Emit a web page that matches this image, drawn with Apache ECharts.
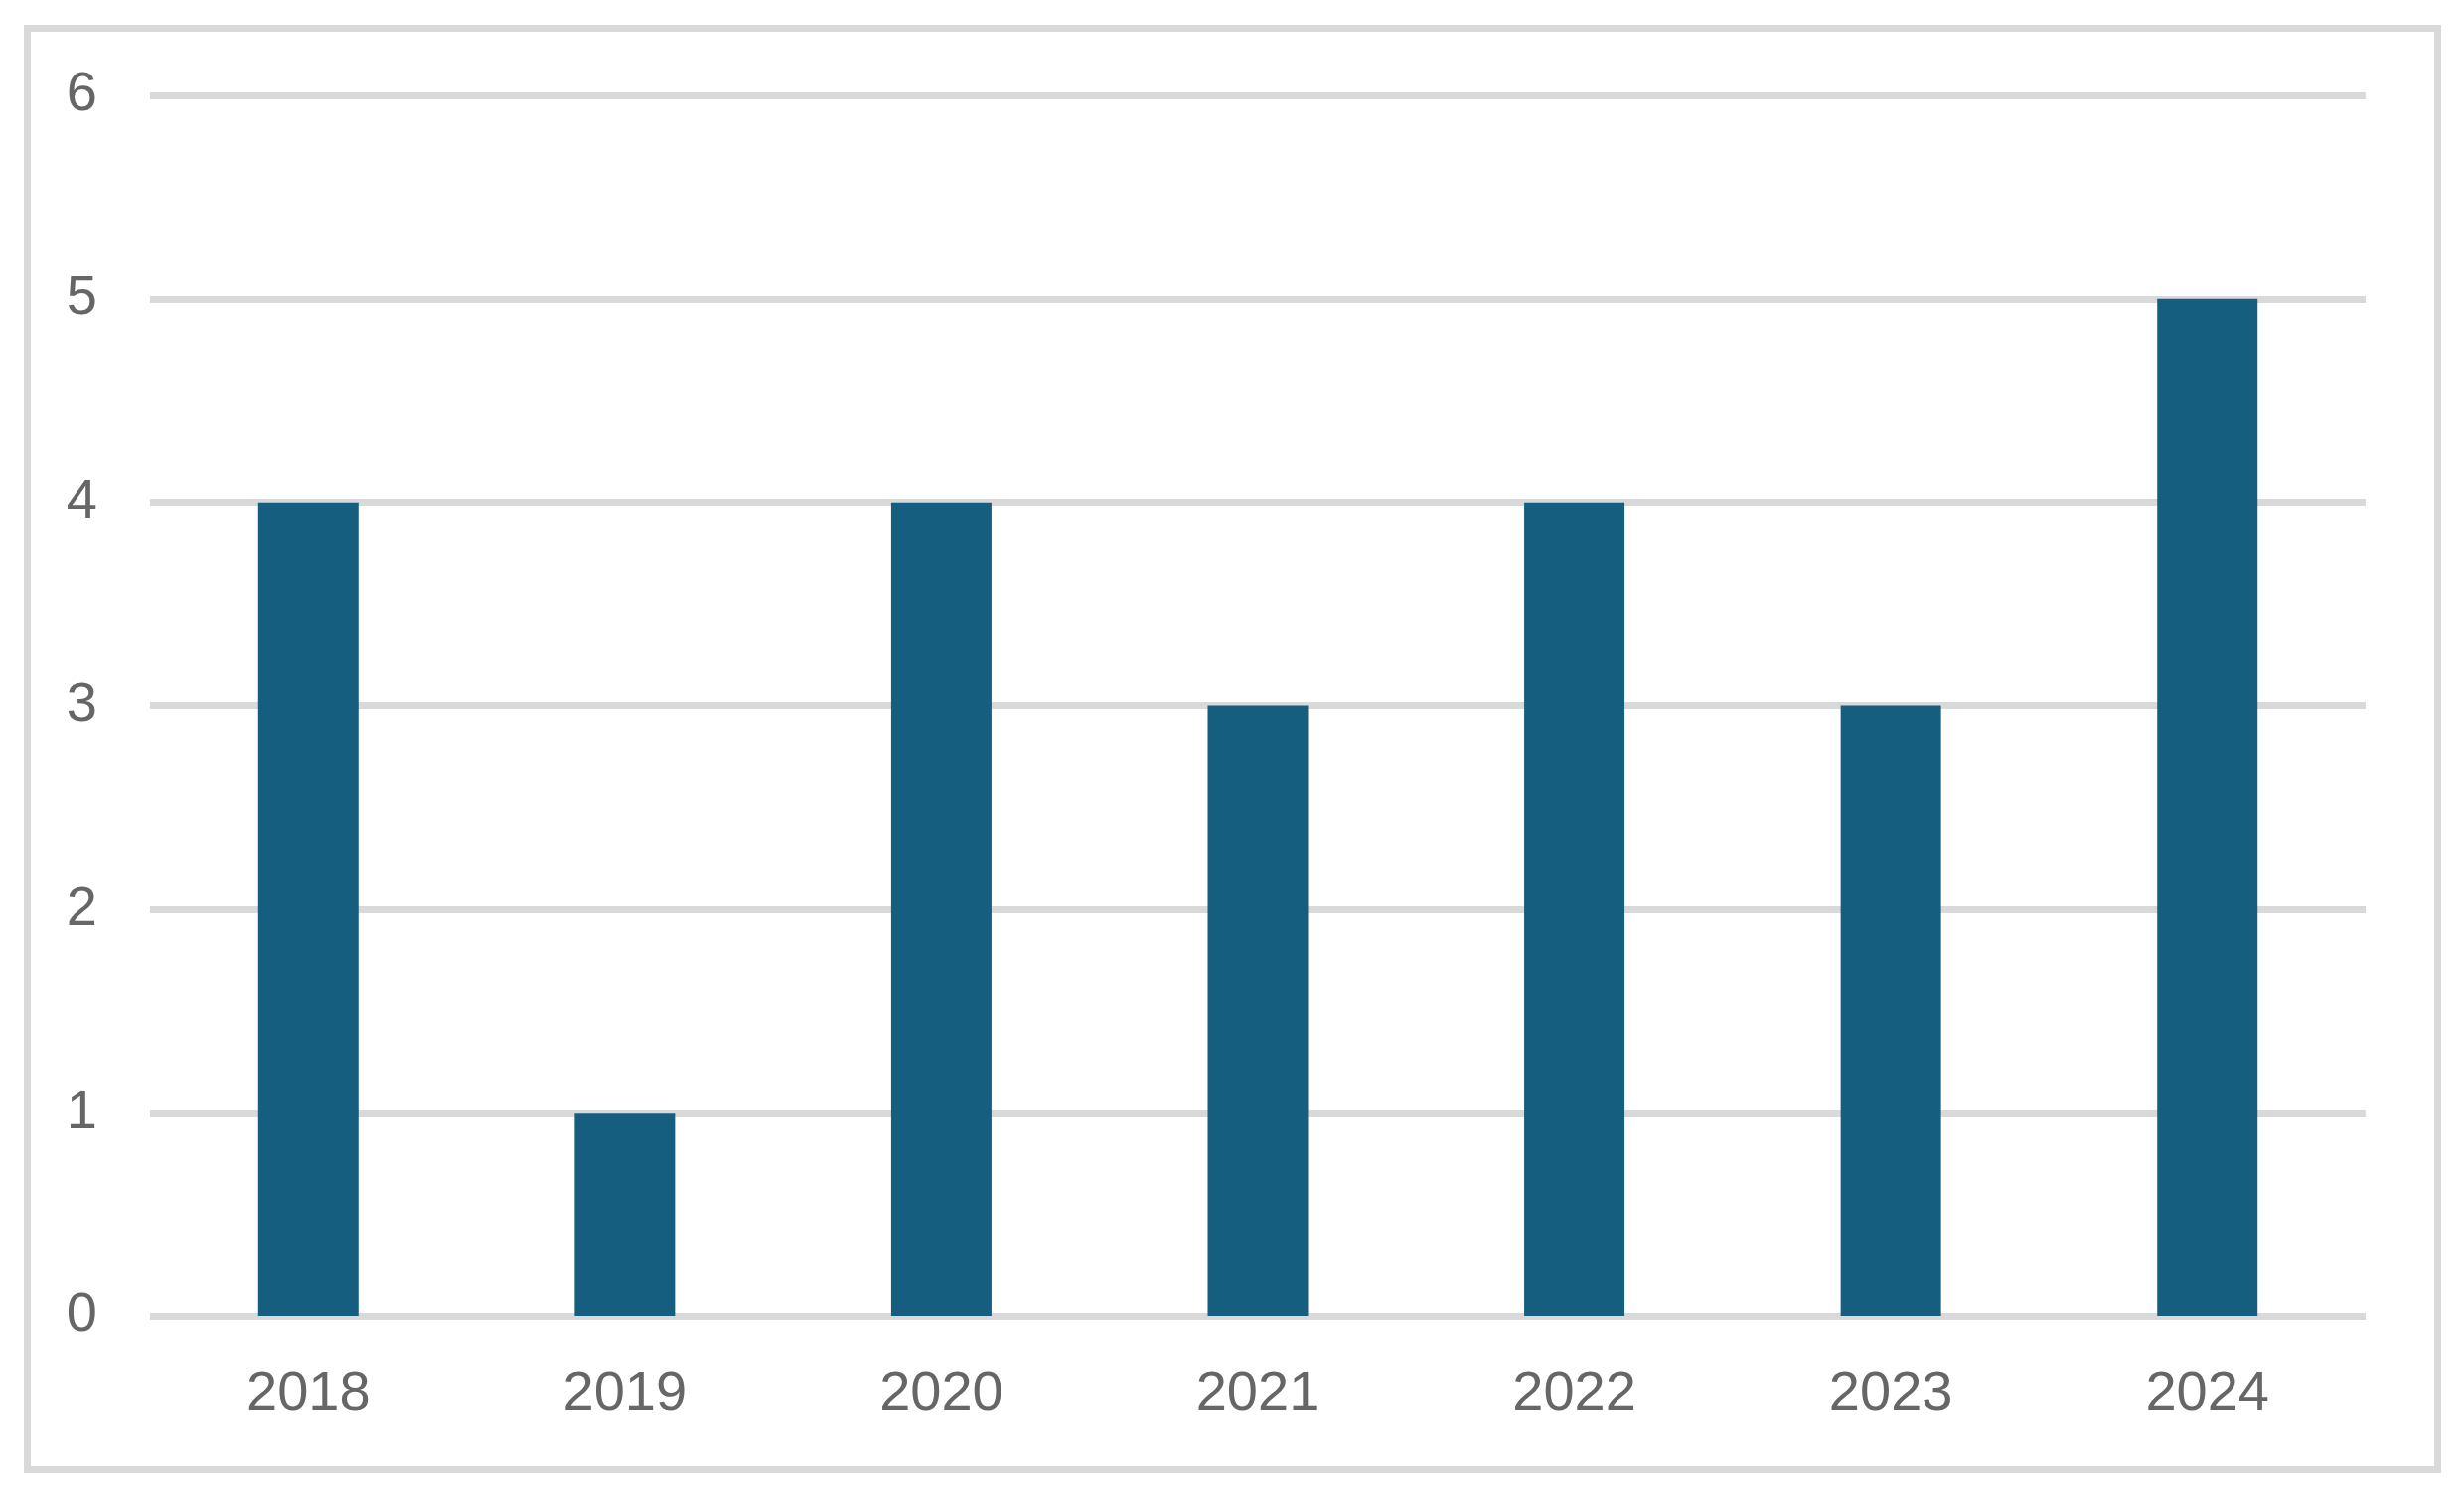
<!DOCTYPE html>
<html>
<head>
<meta charset="utf-8">
<script src="https://cdn.jsdelivr.net/npm/echarts@6/dist/echarts.min.js"></script>
<style>
  html, body { margin: 0; padding: 0; background: #fff; }
  #chart { width: 2480px; height: 1504px; }
</style>
</head>
<body>
<div id="chart"></div>
<script>
// 年份与数值
var years = ['2018', '2019', '2020', '2021', '2022', '2023', '2024']
var counts = [4, 1, 4, 3, 4, 3, 5]

var gridColor = '#d9d9d9'
var labelColor = '#666666'
var barColor = '#165e80'

var option = {
  backgroundColor: '#ffffff',
  animation: false,
  graphic: [{
    type: 'rect',
    shape: { x: 27.5, y: 28.5, width: 2426, height: 1451 },
    style: { fill: 'none', stroke: gridColor, lineWidth: 7 },
    silent: true
  }],
  grid: {
    left: 151,
    right: 99,
    top: 96,
    bottom: 179
  },
  xAxis: {
    type: 'category',
    data: years,
    axisLine: { show: false },
    axisTick: { show: false },
    axisLabel: {
      margin: 51,
      color: labelColor,
      fontSize: 56,
      fontFamily: 'Liberation Sans'
    }
  },
  yAxis: {
    type: 'value',
    min: 0,
    max: 6,
    interval: 1,
    axisLine: { show: false },
    axisTick: { show: false },
    splitLine: {
      show: true,
      lineStyle: { color: gridColor, width: 7 }
    },
    axisLabel: {
      margin: 53,
      color: labelColor,
      fontSize: 56,
      fontFamily: 'Liberation Sans'
    }
  },
  series: [{
    type: 'bar',
    data: counts,
    barWidth: 101,
    itemStyle: { color: barColor },
    z: 3
  }]
}

var myChart = echarts.init(document.getElementById('chart'))
myChart.setOption(option)
</script>
</body>
</html>
